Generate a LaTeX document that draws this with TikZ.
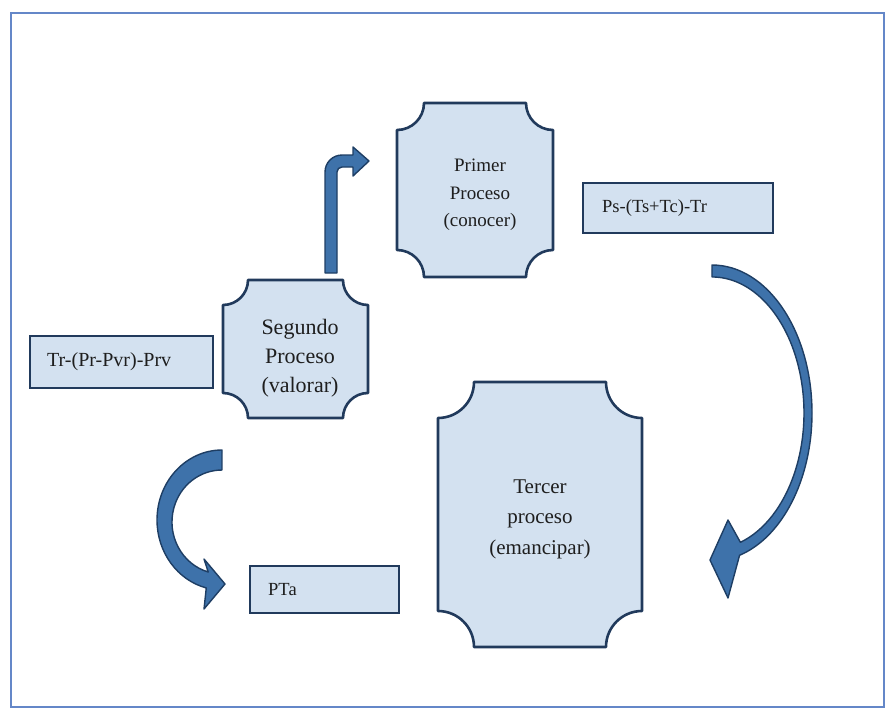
\documentclass[tikz,border=0pt]{standalone}
\usepackage{fontspec}
\setmainfont{Liberation Serif}
\usepackage{tikz}
\definecolor{boxfill}{RGB}{211,225,240}
\definecolor{boxline}{RGB}{33,58,92}
\definecolor{arrowfill}{RGB}{62,114,170}
\definecolor{arrowline}{RGB}{30,62,100}
\definecolor{framecol}{RGB}{100,135,200}
\definecolor{txt}{RGB}{30,30,30}
% box with hollowed corners: [style](x1,y1)(x2,y2)(corner radius)
\def\plaque[#1](#2,#3)(#4,#5)(#6){\draw[#1] (#2+#6,#3) -- (#4-#6,#3) arc[start angle=180,end angle=270,radius=#6pt] -- (#4,#5-#6) arc[start angle=90,end angle=180,radius=#6pt] -- (#2+#6,#5) arc[start angle=0,end angle=90,radius=#6pt] -- (#2,#3+#6) arc[start angle=270,end angle=360,radius=#6pt] -- cycle;}
\tikzset{
  procbox/.style={draw=boxline, fill=boxfill, line width=2.6pt, line join=round},
  labbox/.style={draw=boxline, fill=boxfill, line width=2.8pt},
  bigarrow/.style={draw=arrowline, fill=arrowfill, line width=1.4pt, line join=round},
  proctext/.style={align=center, text=txt, inner sep=0pt},
  labtext/.style={anchor=west, text=txt, inner sep=0pt, font=\fontsize{18.5}{22}\selectfont}
}
\begin{document}
\begin{tikzpicture}[x=1pt,y=-1pt]
		%%%%% START %%%%%
		\useasboundingbox (0,0) rectangle (891,723);
		\draw[framecol, line width=2.6pt] (11,13) rectangle (884,707);
		
		% the three processes
		\plaque[procbox](397,103)(553,277)(27);
		\node[proctext, font=\fontsize{19}{27.5}\selectfont] (primer) at (480,195) {Primer\\Proceso\\(conocer)};
		
		\plaque[procbox](223,280)(368,418)(25);
		\node[proctext, font=\fontsize{22}{29}\selectfont] (segundo) at (300,358) {Segundo\\Proceso\\(valorar)};
		
		\plaque[procbox](438,382)(642,647)(36);
		\node[proctext, font=\fontsize{21}{30.5}\selectfont] (tercer) at (540,519) {Tercer\\proceso\\(emancipar)};
		
		% formulas
		\draw[labbox] (30,336) rectangle (213,388);
		\node[labtext, font=\fontsize{20}{24}\selectfont] (trprv) at (47,362) {Tr-(Pr-Pvr)-Prv};
		
		\draw[labbox] (583,183) rectangle (773,233);
		\node[labtext] (pstr) at (602,208) {Ps-(Ts+Tc)-Tr};
		
		\draw[labbox] (250,566) rectangle (399,613);
		\node[labtext] (pta) at (268,590) {PTa};
		
		% arrows
		\draw[bigarrow] (325,273) -- (325,172) arc[start angle=180,end angle=90,radius=17pt] -- (353,155) -- (353,147) -- (369,161) -- (353,176) -- (353,167) -- (342,167) arc[start angle=90,end angle=180,radius=5pt] -- (337,273) -- cycle;
		
		\draw[bigarrow] (712,265) arc[start angle=90,end angle=-74,x radius=100pt,y radius=148pt] -- (728,598) -- (710,560) -- (728,520) -- (740.4,542.3) arc[start angle=-72,end angle=90,x radius=92pt,y radius=136pt] -- cycle;
		
		\draw[bigarrow] (222,450) arc[start angle=90,end angle=256,x radius=65pt,y radius=70pt] -- (204,609) -- (225,584) -- (204,559) -- (208.2,572) arc[start angle=254,end angle=90,x radius=50pt,y radius=52pt] -- cycle;
		%%%%% END %%%%%
\end{tikzpicture}
\end{document}
